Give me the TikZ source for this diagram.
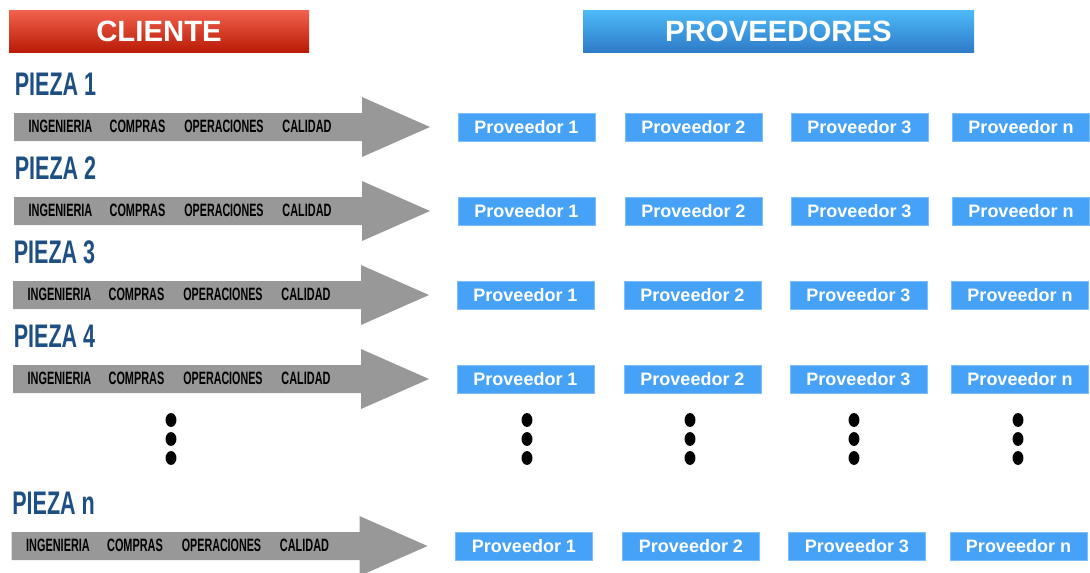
\documentclass[tikz,border=0pt]{standalone}
\usepackage{fontspec}
\setmainfont{Liberation Sans}
\usepackage{graphicx}
\definecolor{redtop}{HTML}{F2624E}
\definecolor{redbot}{HTML}{B91B06}
\definecolor{bluetop}{HTML}{4CBAF8}
\definecolor{bluebot}{HTML}{2F7BC8}
\definecolor{provblue}{HTML}{46A2F7}
\definecolor{arrowgray}{HTML}{989898}
\definecolor{piezablue}{HTML}{1E4F82}
\newcommand{\pzcond}[2]{\scalebox{#1}[1]{#2}}
\tikzset{
  header/.style={minimum height=31.5pt, inner sep=0pt, text=white,
    font=\fontsize{22}{24}\selectfont\bfseries},
  prov/.style={fill=provblue, draw=provblue!70!white, line width=0.5pt,
    minimum width=102.75pt, minimum height=21pt, inner sep=0pt,
    text=white, font=\fontsize{13.5}{15}\selectfont\bfseries},
  pieza/.style={anchor=west, inner sep=0pt, text=piezablue,
    font=\fontsize{24.5}{26}\selectfont\bfseries},
  stage/.style={inner sep=0pt, text=black,
    font=\fontsize{13.4}{15}\selectfont\bfseries},
  flow/.style={fill=arrowgray},
  vdot/.style={fill=black},
}
\begin{document}
\begin{tikzpicture}[x=0.75pt, y=-0.75pt]
\useasboundingbox (0,0) rectangle (1090,572);
% column headers
\node[header, minimum width=225pt, top color=redtop, bottom color=redbot]
  (cliente) at (159,31) {CLIENTE};
\node[header, minimum width=293.25pt, top color=bluetop, bottom color=bluebot]
  (proveedores) at (778.5,31) {PROVEEDORES};
% one row per part: label, process arrow and its suppliers
\foreach \p/\y/\s in {1/127/0, 2/211/0, 3/295/-1, 4/379/-1, n/546/-2.5}{
  \node[pieza] (pieza\p) at (14.5+\s,\y-42.5) {\pzcond{0.66}{PIEZA \p}};
  \fill[flow] (14+\s,\y-14) -- (362+\s,\y-14) -- (362+\s,\y-30)
    -- (430+\s,\y) -- (362+\s,\y+30) -- (362+\s,\y+14)
    -- (14+\s,\y+14) -- cycle;
  \node[stage] (ing\p) at (60.5+\s,\y-0.5) {\pzcond{0.61}{INGENIERIA}};
  \node[stage] (com\p) at (137.5+\s,\y-0.5) {\pzcond{0.61}{COMPRAS}};
  \node[stage] (ope\p) at (224+\s,\y-0.5) {\pzcond{0.6}{OPERACIONES}};
  \node[stage] (cal\p) at (307+\s,\y-0.5) {\pzcond{0.61}{CALIDAD}};
  \node[prov] (prov1\p) at (526.5+\s,\y) {Proveedor 1};
  \node[prov] (prov2\p) at (693.5+\s,\y) {Proveedor 2};
  \node[prov] (prov3\p) at (859.5+\s,\y) {Proveedor 3};
  \node[prov] (provn\p) at (1021+\s,\y) {Proveedor n};
}
% vertical ellipses between row 4 and row n
\foreach \x in {171,527,690,854,1018}{
  \foreach \yy in {420,439,458}{
    \fill[vdot] (\x,\yy) ellipse [x radius=4.1pt, y radius=5.2pt];
  }
}
\end{tikzpicture}
\end{document}
